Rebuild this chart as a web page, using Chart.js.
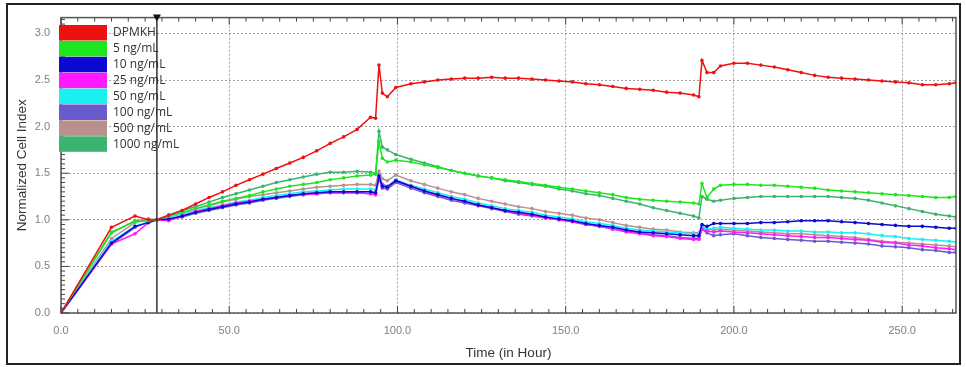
<!DOCTYPE html>
<html>
<head>
<meta charset="utf-8">
<script src="https://cdn.jsdelivr.net/npm/chart.js@4.4.1/dist/chart.umd.min.js"></script>
<style>
    html, body { margin: 0; padding: 0; background: #fff; }
    #wrap { position: relative; width: 966px; height: 367px; }
    #frame { position: absolute; left: 6px; top: 3px; width: 951px; height: 358px; border: 2px solid #222; pointer-events: none; }
</style>
</head>
<body>
<div id="wrap">
    <canvas id="cellChart" width="966" height="367"></canvas>
    <div id="frame"></div>
</div>
<script>
// sampling times (hours), shared by all series
const hours = [0, 15, 22, 26, 28.5,
    32, 36, 40, 44, 48, 52, 56, 60, 64, 68, 72, 76, 80, 84, 88, 92,
    93.5, 94.5, 95.5, 97, 99.5,
    104, 108, 112, 116, 120, 124, 128, 132, 136, 140, 144, 148, 152, 156, 160, 164, 168, 172, 176, 180, 184, 188,
    189.6, 190.5, 192, 194, 196,
    200, 204, 208, 212, 216, 220, 224, 228, 232, 236, 240, 244, 248, 252, 256, 260, 264,
    266];

const dpmkh = [0, 0.92, 1.04, 1.00, 1.00,
    1.05, 1.10, 1.17, 1.24, 1.30, 1.37, 1.43, 1.49, 1.55, 1.61, 1.67, 1.74, 1.82, 1.89, 1.97, 2.10,
    2.09, 2.66, 2.36, 2.32, 2.42,
    2.46, 2.48, 2.50, 2.51, 2.52, 2.52, 2.53, 2.52, 2.52, 2.51, 2.50, 2.49, 2.48, 2.46, 2.45, 2.43, 2.41, 2.40, 2.39, 2.37, 2.36, 2.34,
    2.32, 2.71, 2.58, 2.58, 2.65,
    2.68, 2.68, 2.66, 2.64, 2.61, 2.58, 2.55, 2.53, 2.52, 2.51, 2.50, 2.49, 2.48, 2.47, 2.45, 2.45, 2.46,
    2.47];

const ng5 = [0, 0.87, 0.98, 0.99, 1.00,
    1.04, 1.08, 1.12, 1.16, 1.20, 1.23, 1.26, 1.30, 1.33, 1.36, 1.38, 1.40, 1.43, 1.45, 1.47, 1.48,
    1.49, 1.84, 1.66, 1.62, 1.64,
    1.62, 1.59, 1.56, 1.53, 1.50, 1.47, 1.45, 1.43, 1.41, 1.39, 1.37, 1.35, 1.33, 1.31, 1.29, 1.27, 1.24, 1.22, 1.21, 1.20, 1.19, 1.18,
    1.17, 1.39, 1.24, 1.33, 1.37,
    1.38, 1.38, 1.37, 1.37, 1.36, 1.35, 1.34, 1.32, 1.31, 1.30, 1.29, 1.28, 1.27, 1.26, 1.25, 1.24, 1.24,
    1.25];

const ng10 = [0, 0.75, 0.93, 0.97, 1.00,
    1.01, 1.04, 1.08, 1.11, 1.14, 1.17, 1.19, 1.22, 1.24, 1.26, 1.28, 1.29, 1.30, 1.30, 1.30, 1.30,
    1.29, 1.47, 1.36, 1.35, 1.42,
    1.36, 1.31, 1.27, 1.23, 1.20, 1.16, 1.13, 1.10, 1.08, 1.06, 1.03, 1.01, 0.99, 0.96, 0.94, 0.92, 0.89, 0.87, 0.86, 0.85, 0.84, 0.83,
    0.83, 0.95, 0.93, 0.96, 0.96,
    0.96, 0.96, 0.97, 0.97, 0.98, 0.99, 0.99, 0.99, 0.98, 0.97, 0.96, 0.95, 0.94, 0.93, 0.93, 0.92, 0.91,
    0.91];

const ng25 = [0, 0.74, 0.85, 0.97, 1.00,
    0.99, 1.04, 1.09, 1.12, 1.15, 1.18, 1.20, 1.22, 1.24, 1.26, 1.27, 1.28, 1.29, 1.29, 1.29, 1.28,
    1.27, 1.45, 1.38, 1.36, 1.42,
    1.36, 1.31, 1.27, 1.23, 1.19, 1.16, 1.13, 1.10, 1.07, 1.05, 1.02, 1.00, 0.98, 0.95, 0.93, 0.90, 0.87, 0.85, 0.83, 0.82, 0.80, 0.79,
    0.79, 0.90, 0.88, 0.87, 0.88,
    0.87, 0.86, 0.85, 0.84, 0.83, 0.82, 0.81, 0.81, 0.80, 0.79, 0.78, 0.76, 0.75, 0.73, 0.72, 0.70, 0.69,
    0.68];

const ng50 = [0, 0.77, 0.93, 0.98, 1.00,
    1.03, 1.06, 1.10, 1.13, 1.16, 1.19, 1.21, 1.24, 1.26, 1.28, 1.30, 1.31, 1.32, 1.33, 1.33, 1.33,
    1.32, 1.47, 1.38, 1.36, 1.43,
    1.37, 1.33, 1.29, 1.25, 1.22, 1.18, 1.15, 1.12, 1.10, 1.08, 1.05, 1.03, 1.01, 0.98, 0.96, 0.94, 0.91, 0.89, 0.88, 0.87, 0.86, 0.85,
    0.85, 0.92, 0.90, 0.91, 0.92,
    0.91, 0.90, 0.89, 0.89, 0.88, 0.88, 0.87, 0.87, 0.86, 0.86, 0.85, 0.83, 0.82, 0.80, 0.79, 0.78, 0.77,
    0.76];

const ng100 = [0, 0.74, 0.92, 0.98, 1.00,
    1.00, 1.03, 1.07, 1.10, 1.13, 1.16, 1.18, 1.21, 1.23, 1.25, 1.27, 1.28, 1.29, 1.29, 1.29, 1.28,
    1.27, 1.44, 1.34, 1.33, 1.40,
    1.34, 1.29, 1.25, 1.21, 1.18, 1.15, 1.12, 1.09, 1.06, 1.04, 1.02, 1.00, 0.98, 0.95, 0.93, 0.90, 0.88, 0.86, 0.84, 0.83, 0.81, 0.80,
    0.80, 0.90, 0.86, 0.83, 0.84,
    0.85, 0.83, 0.81, 0.80, 0.79, 0.78, 0.77, 0.77, 0.76, 0.75, 0.74, 0.72, 0.71, 0.70, 0.68, 0.67, 0.65,
    0.65];

const ng500 = [0, 0.80, 0.97, 1.01, 1.00,
    1.03, 1.07, 1.12, 1.15, 1.19, 1.22, 1.25, 1.27, 1.29, 1.31, 1.33, 1.35, 1.36, 1.37, 1.38, 1.38,
    1.37, 1.52, 1.44, 1.42, 1.48,
    1.42, 1.38, 1.34, 1.30, 1.27, 1.23, 1.20, 1.17, 1.14, 1.12, 1.09, 1.07, 1.05, 1.02, 1.00, 0.97, 0.94, 0.92, 0.90, 0.89, 0.87, 0.86,
    0.86, 0.93, 0.90, 0.89, 0.90,
    0.89, 0.88, 0.87, 0.86, 0.85, 0.85, 0.84, 0.83, 0.82, 0.81, 0.79, 0.77, 0.76, 0.75, 0.74, 0.73, 0.72,
    0.71];

const ng1000 = [0, 0.86, 0.99, 1.00, 1.00,
    1.05, 1.10, 1.14, 1.19, 1.24, 1.28, 1.32, 1.36, 1.40, 1.43, 1.46, 1.49, 1.51, 1.51, 1.52, 1.51,
    1.50, 1.95, 1.78, 1.75, 1.70,
    1.65, 1.61, 1.57, 1.53, 1.50, 1.47, 1.45, 1.42, 1.40, 1.38, 1.36, 1.33, 1.31, 1.28, 1.26, 1.23, 1.20, 1.17, 1.13, 1.10, 1.07, 1.04,
    1.02, 1.25, 1.22, 1.20, 1.21,
    1.23, 1.24, 1.25, 1.25, 1.25, 1.25, 1.25, 1.25, 1.24, 1.23, 1.21, 1.18, 1.15, 1.12, 1.09, 1.06, 1.04,
    1.03];

const seriesLabels = ['DPMKH', '5 ng/mL', '10 ng/mL', '25 ng/mL', '50 ng/mL', '100 ng/mL', '500 ng/mL', '1000 ng/mL'];
const seriesValues = [dpmkh, ng5, ng10, ng25, ng50, ng100, ng500, ng1000];
const seriesColors = ['#ee1111', '#1ee61e', '#0a0ad2', '#ff1aff', '#1af0f0', '#6a5acd', '#bc8f8f', '#3cb371'];

const xTicks = [0, 50, 100, 150, 200, 250];
const yTicks = [0, 0.5, 1.0, 1.5, 2.0, 2.5, 3.0];
const markerHour = 28.5;   // vertical reference line (normalisation time)

// frame, minor ticks, marker line and legend drawn over the plot
const decor = {
    id: 'decor',
    afterDatasetsDraw(chart) {
        const ctx = chart.ctx, a = chart.chartArea;
        const xs = chart.scales.x, ys = chart.scales.y;
        ctx.save();
        // marker line
        const mx = xs.getPixelForValue(markerHour);
        ctx.strokeStyle = '#333';
        ctx.lineWidth = 1.5;
        ctx.beginPath();
        ctx.moveTo(mx, a.top);
        ctx.lineTo(mx, a.bottom);
        ctx.stroke();
        // frame
        ctx.strokeStyle = '#555';
        ctx.lineWidth = 1.5;
        ctx.strokeRect(a.left, a.top, a.right - a.left, a.bottom - a.top);
        // minor ticks
        ctx.lineWidth = 1;
        ctx.strokeStyle = '#444';
        ctx.beginPath();
        for (let k = 0; k * 5 <= xs.max; k++) {
            const px = xs.getPixelForValue(k * 5);
            const len = k % 10 === 0 ? 7 : 4;
            ctx.moveTo(px, a.bottom); ctx.lineTo(px, a.bottom - len);
            ctx.moveTo(px, a.top); ctx.lineTo(px, a.top + len);
        }
        for (let k = 0; k * 0.05 <= ys.max; k++) {
            const py = ys.getPixelForValue(k * 0.05);
            const len = k % 10 === 0 ? 8 : 4;
            ctx.moveTo(a.left, py); ctx.lineTo(a.left + len, py);
        }
        ctx.stroke();
        // marker triangle on top axis
        ctx.fillStyle = '#111';
        ctx.beginPath();
        ctx.moveTo(mx - 4, a.top - 3);
        ctx.lineTo(mx + 4, a.top - 3);
        ctx.lineTo(mx, a.top + 4);
        ctx.closePath();
        ctx.fill();
        // legend
        const rowH = 15.9;
        ctx.font = '12px "Open Sans", sans-serif';
        ctx.textBaseline = 'middle';
        chart.data.datasets.forEach((ds, i) => {
            const y0 = 25 + i * rowH;
            ctx.fillStyle = ds.borderColor;
            ctx.fillRect(59, y0, 48, rowH - 0.4);
            ctx.fillStyle = '#333';
            ctx.fillText(ds.label, 113, y0 + rowH / 2);
        });
        ctx.restore();
    }
};

new Chart(document.getElementById('cellChart').getContext('2d'), {
    type: 'line',
    data: {
        datasets: seriesLabels.map((label, i) => ({
            label: label,
            data: hours.map((h, j) => ({ x: h, y: seriesValues[i][j] })),
            borderColor: seriesColors[i],
            backgroundColor: seriesColors[i],
            borderWidth: 1.5,
            pointRadius: 1.8,
            pointBorderWidth: 0,
            tension: 0,
            fill: false
        }))
    },
    options: {
        responsive: false,
        animation: false,
        devicePixelRatio: 1,
        layout: { padding: { top: 14, right: 10, left: 0, bottom: 0 } },
        plugins: {
            legend: { display: false },
            tooltip: { enabled: false }
        },
        scales: {
            x: {
                type: 'linear',
                min: 0,
                max: 266,
                afterFit: scale => { scale.height = 54; },
                afterBuildTicks: scale => { scale.ticks = xTicks.map(v => ({ value: v })); },
                grid: { color: '#a0a0a0', drawTicks: false },
                border: { display: false, dash: [2, 2] },
                ticks: {
                    padding: 11,
                    maxRotation: 0,
                    autoSkip: false,
                    color: '#808080',
                    font: { family: '"Liberation Sans", Arial, sans-serif', size: 11 },
                    callback: v => Number(v).toFixed(1)
                },
                title: {
                    display: true,
                    text: 'Time (in Hour)',
                    color: '#333',
                    padding: 6,
                    font: { family: '"Liberation Sans", Arial, sans-serif', size: 13.5 }
                }
            },
            y: {
                min: 0,
                max: 3.17,
                afterFit: scale => { scale.width = 61; },
                afterBuildTicks: scale => { scale.ticks = yTicks.map(v => ({ value: v })); },
                grid: { color: '#a0a0a0', drawTicks: false },
                border: { display: false, dash: [2, 2] },
                ticks: {
                    padding: 11,
                    color: '#808080',
                    font: { family: '"Liberation Sans", Arial, sans-serif', size: 11 },
                    callback: v => Number(v).toFixed(1)
                },
                title: {
                    display: true,
                    text: 'Normalized Cell Index',
                    color: '#333',
                    padding: 14,
                    font: { family: '"Liberation Sans", Arial, sans-serif', size: 13.5 }
                }
            }
        }
    },
    plugins: [decor]
});
</script>
</body>
</html>
